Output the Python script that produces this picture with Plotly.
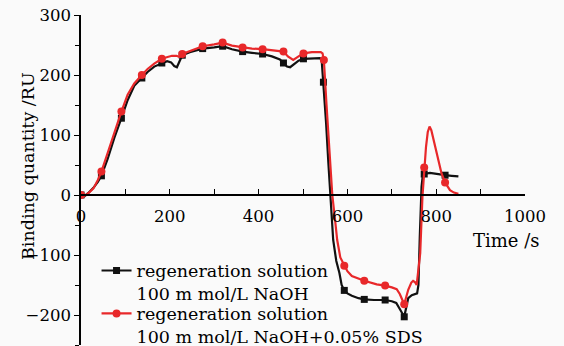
import plotly.graph_objects as go

# ---- data ----
naoh_t = [0, 8, 16, 28, 38, 46, 60, 75, 91, 105, 120, 137, 150, 165, 182, 194, 203, 210, 216, 222,
          228, 245, 260, 274, 300, 319, 340, 364, 385, 409, 430, 448, 456, 464, 471, 480, 490, 501,
          520, 538, 542, 546, 552, 557, 562, 568, 575, 582, 587, 593, 600, 610, 625, 638, 660, 685,
          700, 710, 718, 728, 737, 745, 757, 760, 763, 767, 770, 773, 786, 800, 808, 820, 835, 850]
naoh_v = [0, -2, 3, 12, 22, 32, 60, 95, 128, 158, 182, 195, 205, 214, 220, 223, 221, 215, 213, 222,
          233, 238, 241, 244, 246, 248, 243, 239, 237, 235, 231, 226, 220, 214, 213, 218, 224, 227,
          228, 228, 225, 188, 120, 55, 0, -75, -110, -130, -150, -159, -164, -168, -172, -174, -175, -175,
          -177, -180, -190, -203, -172, -167, -164, -150, -70, 14, 34, 35, 37, 35, 34, 33, 32, 31]
naoh_marker_t = [0, 46, 91, 137, 182, 228, 274, 319, 364, 409, 456, 501, 546, 593, 638, 685, 728, 773, 820]

sds_t = [0, 9, 18, 28, 38, 46, 60, 75, 91, 105, 120, 137, 150, 165, 182, 195, 205, 215, 222, 228,
         245, 260, 274, 300, 319, 340, 364, 385, 409, 430, 456, 466, 478, 490, 501, 520, 540, 544,
         547, 553, 560, 566, 572, 577, 584, 593, 600, 610, 625, 638, 666, 685, 700, 711, 718, 722,
         728, 737, 744, 748, 752, 756, 760, 764, 769, 773, 777, 781, 785, 789, 794, 800, 805, 812,
         820, 831, 840, 850]
sds_v = [0, -1, 4, 11, 25, 39, 70, 105, 139, 167, 186, 200, 210, 219, 227, 230, 232, 232, 230, 235,
         240, 244, 248, 251, 254, 249, 246, 244, 243, 241, 239, 231, 225, 231, 236, 238, 238, 236,
         225, 150, 70, 0, -40, -75, -104, -118, -127, -135, -140, -143, -149, -151, -154, -157, -165, -172,
         -182, -158, -146, -143, -145, -150, -120, -97, -3, 46, 80, 105, 114, 108, 92, 72, 53, 36,
         21, 8, 4, 2]
sds_marker_t = [0, 46, 91, 137, 182, 228, 274, 319, 364, 409, 456, 501, 547, 593, 638, 685, 728, 773, 820]

names = ["regeneration solution<br>100 m mol/L NaOH",
         "regeneration solution<br>100 m mol/L NaOH+0.05% SDS"]

BLACK = "#111111"
RED = "#e8282a"
FONT = "DejaVu Serif"

fig = go.Figure()

series = [
    (naoh_t, naoh_v, naoh_marker_t, BLACK, "square", 7, names[0], "legend"),
    (sds_t, sds_v, sds_marker_t, RED, "circle", 8, names[1], "legend2"),
]
for t, v, mt, col, sym, ms, name, lg in series:
    fig.add_trace(go.Scatter(x=t, y=v, mode="lines", line=dict(color=col, width=2.2),
                             showlegend=False, hoverinfo="skip"))
    mx = [a for a in t if a in mt]
    my = [b for a, b in zip(t, v) if a in mt]
    fig.add_trace(go.Scatter(x=mx, y=my, mode="markers",
                             marker=dict(color=col, symbol=sym, size=ms), showlegend=False))
for t, v, mt, col, sym, ms, name, lg in series:
    fig.add_trace(go.Scatter(x=[None], y=[None], mode="lines+markers", name=name, legend=lg,
                             line=dict(color=col, width=2.2),
                             marker=dict(color=col, symbol=sym, size=ms)))

legend_common = dict(xanchor="left", yanchor="top", bgcolor="rgba(0,0,0,0)",
                     font=dict(size=17.5, family=FONT), valign="top", itemwidth=30)

fig.update_layout(
    width=564, height=346,
    margin=dict(l=81, r=39, t=15, b=1, autoexpand=False),
    paper_bgcolor="#fafafa", plot_bgcolor="#fafafa",
    font=dict(family=FONT, size=17, color="black"),
    showlegend=True,
    legend=dict(x=0.035, y=0.280, **legend_common),
    legend2=dict(x=0.035, y=0.150, **legend_common),
    xaxis=dict(range=[0, 1000], dtick=200, tick0=0, ticks="inside", ticklen=5,
               tickwidth=1.3, tickcolor="black", automargin=False,
               minor=dict(dtick=100, ticks="inside", ticklen=5, tickwidth=1.3, tickcolor="black"),
               showline=True, linecolor="black", linewidth=1.5,
               showgrid=False, zeroline=False, anchor="free", position=250 / 550,
               tickfont=dict(size=16.5, family=FONT), ticklabelstandoff=6),
    yaxis=dict(range=[-250, 300], dtick=100, tick0=0, ticks="outside", ticklen=5,
               tickwidth=1.3, tickcolor="black", automargin=False,
               minor=dict(dtick=50, ticks="outside", ticklen=4, tickwidth=1.3, tickcolor="black"),
               showline=True, linecolor="black", linewidth=1.5,
               showgrid=False, zeroline=False,
               tickfont=dict(size=16.5, family=FONT)),
    annotations=[
        dict(text="Time /s", xref="paper", yref="paper", x=(506 - 81) / 444, y=(345 - 240) / 330,
             xanchor="center", yanchor="middle", showarrow=False, font=dict(size=18, family=FONT)),
        dict(text="Binding quantity /RU", xref="paper", yref="paper", x=(28 - 81) / 444,
             y=(345 - 166) / 330, xanchor="center", yanchor="middle", textangle=-90,
             showarrow=False, font=dict(size=17.5, family=FONT)),
    ],
)

fig.write_html("out.html", config={"displayModeBar": False},
               post_script="document.body.style.margin='0';document.body.style.background='#fafafa';")
